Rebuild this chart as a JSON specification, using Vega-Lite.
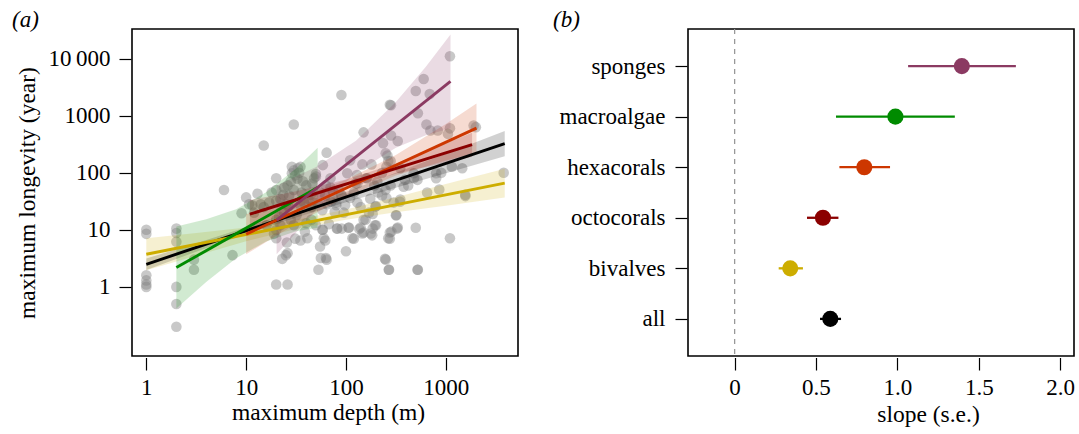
{
  "$schema": "https://vega.github.io/schema/vega-lite/v6.json",
  "padding": {"left": 11, "top": 7, "right": 2, "bottom": 2},
  "background": "white",
  "bounds": "flush",
  "spacing": 170,
  "config": {
    "font": "Liberation Serif",
    "view": {"stroke": "black", "strokeWidth": 1.6},
    "axis": {
      "domain": false, "grid": false, "ticks": true,
      "tickColor": "black", "tickWidth": 1.2,
      "labelColor": "black", "titleColor": "black",
      "labelFont": "Liberation Serif", "titleFont": "Liberation Serif",
      "labelFontSize": 23, "titleFontSize": 23.5, "titleFontWeight": "normal"
    }
  },
  "datasets": {
    "pts": [
      {"depth":1,"longevity":10},{"depth":1,"longevity":8.5},{"depth":1,"longevity":1.6},{"depth":1,"longevity":1.3},{"depth":1,"longevity":1.1},{"depth":1,"longevity":1.0},
      {"depth":2,"longevity":10.5},{"depth":2,"longevity":8.8},{"depth":2,"longevity":6.2},{"depth":2,"longevity":1.0},{"depth":2,"longevity":0.5},{"depth":2,"longevity":0.2},
      {"depth":3,"longevity":3},{"depth":3,"longevity":2},{"depth":6,"longevity":50},{"depth":7.3,"longevity":3.6},{"depth":9,"longevity":19.5},{"depth":10,"longevity":37},
      {"depth":13,"longevity":43},{"depth":10.7,"longevity":28},{"depth":15,"longevity":300},{"depth":20,"longevity":80},{"depth":30,"longevity":700},{"depth":15,"longevity":25},
      {"depth":20,"longevity":50},{"depth":20,"longevity":32},{"depth":23.6,"longevity":41},{"depth":26,"longevity":60},{"depth":28.7,"longevity":98},{"depth":28.7,"longevity":127},
      {"depth":35,"longevity":127},{"depth":32.6,"longevity":79},{"depth":37,"longevity":71},{"depth":44.5,"longevity":41},{"depth":46,"longevity":65},{"depth":58.6,"longevity":136},
      {"depth":64,"longevity":225},{"depth":50,"longevity":95},{"depth":35,"longevity":27},{"depth":38.8,"longevity":9.3},{"depth":41,"longevity":7.1},{"depth":35,"longevity":6.5},
      {"depth":31,"longevity":7},{"depth":25.6,"longevity":6},{"depth":26,"longevity":3.9},{"depth":23,"longevity":3.1},{"depth":25,"longevity":3.6},{"depth":20,"longevity":1.1},
      {"depth":26,"longevity":1.1},{"depth":20,"longevity":7.1},{"depth":20,"longevity":9.9},{"depth":21.4,"longevity":17},{"depth":26.5,"longevity":25.6},{"depth":58.6,"longevity":10},
      {"depth":60,"longevity":7.1},{"depth":55,"longevity":5.1},{"depth":56,"longevity":3.2},{"depth":63,"longevity":3.2},{"depth":53,"longevity":2.0},{"depth":67.6,"longevity":12.6},
      {"depth":81,"longevity":10.5},{"depth":77,"longevity":20.6},{"depth":100,"longevity":4.2},{"depth":90.6,"longevity":10.5},{"depth":106,"longevity":10.9},{"depth":116,"longevity":7.1},
      {"depth":136,"longevity":10.3},{"depth":146,"longevity":8.6},{"depth":157,"longevity":15},{"depth":177,"longevity":8.6},{"depth":185,"longevity":10.5},{"depth":200,"longevity":12},
      {"depth":197,"longevity":25.6},{"depth":185,"longevity":19},{"depth":246,"longevity":3.1},{"depth":268,"longevity":2.0},{"depth":265,"longevity":7.1},{"depth":285,"longevity":9.3},
      {"depth":325,"longevity":10.5},{"depth":316,"longevity":18},{"depth":347,"longevity":31},{"depth":378,"longevity":57},{"depth":500,"longevity":10.9},{"depth":520,"longevity":2.0},
      {"depth":1100,"longevity":7.1},{"depth":860,"longevity":51},{"depth":800,"longevity":98},{"depth":800,"longevity":80},{"depth":1460,"longevity":120},{"depth":1565,"longevity":41},
      {"depth":3800,"longevity":100},{"depth":477,"longevity":98},{"depth":520,"longevity":75},{"depth":390,"longevity":75},{"depth":249,"longevity":50},{"depth":254,"longevity":36},
      {"depth":192,"longevity":60},{"depth":160,"longevity":80},{"depth":146,"longevity":140},{"depth":129,"longevity":91},{"depth":110,"longevity":36},{"depth":98,"longevity":27},
      {"depth":90,"longevity":41},{"depth":71,"longevity":31},{"depth":74,"longevity":47},{"depth":63,"longevity":60},{"depth":150,"longevity":510},{"depth":90,"longevity":2300},
      {"depth":275,"longevity":1550},{"depth":282,"longevity":1520},{"depth":235,"longevity":330},{"depth":283,"longevity":450},{"depth":330,"longevity":360},{"depth":250,"longevity":220},
      {"depth":254,"longevity":127},{"depth":265,"longevity":160},{"depth":110,"longevity":165},{"depth":500,"longevity":2700},{"depth":600,"longevity":4400},{"depth":690,"longevity":2400},
      {"depth":525,"longevity":1100},{"depth":640,"longevity":700},{"depth":700,"longevity":550},{"depth":830,"longevity":550},{"depth":1050,"longevity":480},{"depth":1100,"longevity":600},
      {"depth":1100,"longevity":11000},{"depth":1900,"longevity":670},{"depth":2000,"longevity":630},{"depth":1150,"longevity":127},
      {"depth":17,"longevity":30},{"depth":18,"longevity":45},{"depth":22,"longevity":35},{"depth":24,"longevity":55},{"depth":25,"longevity":28},{"depth":27,"longevity":40},
      {"depth":28,"longevity":70},{"depth":30,"longevity":50},{"depth":30,"longevity":110},{"depth":31,"longevity":90},{"depth":33,"longevity":120},{"depth":34,"longevity":100},
      {"depth":36,"longevity":45},{"depth":38,"longevity":30},{"depth":40,"longevity":60},{"depth":42,"longevity":35},{"depth":45,"longevity":25},{"depth":48,"longevity":80},
      {"depth":52,"longevity":30},{"depth":55,"longevity":45},{"depth":58,"longevity":22},{"depth":62,"longevity":40},{"depth":65,"longevity":28},{"depth":70,"longevity":55},
      {"depth":75,"longevity":35},{"depth":80,"longevity":30},{"depth":85,"longevity":50},{"depth":95,"longevity":20},{"depth":120,"longevity":45},{"depth":125,"longevity":65},
      {"depth":140,"longevity":25},{"depth":175,"longevity":35},{"depth":210,"longevity":45},{"depth":230,"longevity":100},{"depth":280,"longevity":60},{"depth":300,"longevity":30},
      {"depth":420,"longevity":60},{"depth":650,"longevity":45},{"depth":900,"longevity":100},{"depth":350,"longevity":120},{"depth":180,"longevity":140},{"depth":20,"longevity":15},
      {"depth":22,"longevity":12},{"depth":24,"longevity":20},{"depth":28,"longevity":15},{"depth":32,"longevity":18},{"depth":40,"longevity":13},{"depth":45,"longevity":15},
      {"depth":50,"longevity":12},{"depth":30,"longevity":12},{"depth":16,"longevity":12},{"depth":19,"longevity":8.5},{"depth":12,"longevity":20},{"depth":14,"longevity":28},
      {"depth":11.5,"longevity":27},{"depth":260,"longevity":200},{"depth":280,"longevity":160},{"depth":480,"longevity":80},{"depth":206,"longevity":70},{"depth":163,"longevity":80},
      {"depth":103,"longevity":98},{"depth":70,"longevity":80},{"depth":130,"longevity":65},{"depth":50,"longevity":86},{"depth":1570,"longevity":39},{"depth":320,"longevity":18},
      {"depth":330,"longevity":11},{"depth":275,"longevity":9},{"depth":275,"longevity":7},{"depth":350,"longevity":34},{"depth":250,"longevity":3},{"depth":270,"longevity":2},
      {"depth":525,"longevity":2},{"depth":64,"longevity":3},{"depth":183,"longevity":8},{"depth":150,"longevity":9},{"depth":120,"longevity":7},{"depth":82,"longevity":10.5},
      {"depth":107,"longevity":11},{"depth":140,"longevity":11},{"depth":195,"longevity":12},{"depth":200,"longevity":26},{"depth":170,"longevity":20},{"depth":58,"longevity":10},
      {"depth":62,"longevity":6.5},{"depth":130,"longevity":30},{"depth":230,"longevity":40},{"depth":90,"longevity":40},{"depth":80,"longevity":27},{"depth":150,"longevity":15}
    ],
    "bands": [
      {"group":"all","depth":1,"lo":1.98,"hi":3.13},{"group":"all","depth":3.16,"lo":4.13,"hi":5.83},{"group":"all","depth":10,"lo":8.41,"hi":11.09},{"group":"all","depth":31.6,"lo":16.39,"hi":22.11},
      {"group":"all","depth":100,"lo":30.5,"hi":46.1},{"group":"all","depth":316,"lo":54.8,"hi":99.7},{"group":"all","depth":1000,"lo":98.4,"hi":215.3},{"group":"all","depth":3890,"lo":195.4,"hi":538.3},
      {"group":"bivalves","depth":1,"lo":1.96,"hi":7.11},{"group":"bivalves","depth":3.16,"lo":3.51,"hi":8.82},{"group":"bivalves","depth":10,"lo":6.30,"hi":10.94},{"group":"bivalves","depth":31.6,"lo":10.3,"hi":14.9},
      {"group":"bivalves","depth":100,"lo":15.0,"hi":22.7},{"group":"bivalves","depth":316,"lo":20.4,"hi":37.1},{"group":"bivalves","depth":1000,"lo":26.5,"hi":63.5},{"group":"bivalves","depth":3890,"lo":37.0,"hi":117},
      {"group":"macroalgae","depth":2,"lo":0.416,"hi":11.46},{"group":"macroalgae","depth":3.98,"lo":1.214,"hi":15.29},{"group":"macroalgae","depth":7.94,"lo":3.17,"hi":22.95},
      {"group":"macroalgae","depth":15.85,"lo":6.27,"hi":45.4},{"group":"macroalgae","depth":31.6,"lo":9.41,"hi":118.5},{"group":"macroalgae","depth":52,"lo":10.9,"hi":273.5},
      {"group":"hexacorals","depth":10,"lo":3.74,"hi":18.75},{"group":"hexacorals","depth":31.6,"lo":12.76,"hi":35.16},{"group":"hexacorals","depth":100,"lo":37.9,"hi":75.7},
      {"group":"hexacorals","depth":316,"lo":89.5,"hi":205},{"group":"hexacorals","depth":1000,"lo":164,"hi":716},{"group":"hexacorals","depth":2028,"lo":225,"hi":1629},
      {"group":"octocorals","depth":10.9,"lo":10.57,"hi":33.4},{"group":"octocorals","depth":31.6,"lo":23.8,"hi":47.5},{"group":"octocorals","depth":100,"lo":52.6,"hi":76.0},
      {"group":"octocorals","depth":316,"lo":96.4,"hi":145.9},{"group":"octocorals","depth":1000,"lo":150.7,"hi":329.6},{"group":"octocorals","depth":1832,"lo":191.4,"hi":503.5},
      {"group":"sponges","depth":20.2,"lo":3.72,"hi":58.9},{"group":"sponges","depth":50.1,"lo":21.9,"hi":126.3},{"group":"sponges","depth":125.9,"lo":99.95,"hi":362.9},
      {"group":"sponges","depth":316,"lo":274.3,"hi":1730},{"group":"sponges","depth":631,"lo":454,"hi":7194},{"group":"sponges","depth":1114,"lo":605,"hi":26420}
    ],
    "lines": [
      {"group":"all","depth":1,"fit":2.49},{"group":"all","depth":3890,"fit":323},
      {"group":"bivalves","depth":1,"fit":3.73},{"group":"bivalves","depth":3890,"fit":65.7},
      {"group":"macroalgae","depth":2,"fit":2.18},{"group":"macroalgae","depth":52,"fit":55},
      {"group":"hexacorals","depth":10,"fit":8.4},{"group":"hexacorals","depth":2028,"fit":606},
      {"group":"octocorals","depth":10.9,"fit":18.8},{"group":"octocorals","depth":1832,"fit":310},
      {"group":"sponges","depth":20.2,"fit":14.8},{"group":"sponges","depth":1114,"fit":4000}
    ],
    "slopes": [
      {"group":"sponges","slope":1.396,"lo":1.066,"hi":1.728},
      {"group":"macroalgae","slope":0.988,"lo":0.623,"hi":1.353},
      {"group":"hexacorals","slope":0.797,"lo":0.644,"hi":0.955},
      {"group":"octocorals","slope":0.543,"lo":0.445,"hi":0.638},
      {"group":"bivalves","slope":0.342,"lo":0.271,"hi":0.420},
      {"group":"all","slope":0.588,"lo":0.525,"hi":0.654}
    ]
  },
  "hconcat": [
    {
      "width": 386,
      "height": 327,
      "title": {"text": "(a)", "anchor": "start", "frame": "group", "dx": -120, "offset": -21, "baseline": "alphabetic", "fontStyle": "italic", "fontSize": 23, "fontWeight": "normal", "font": "Liberation Serif", "color": "black"},
      "layer": [
        {
          "data": {"name": "pts"},
          "mark": {"type": "circle", "size": 112, "color": "#808080", "opacity": 0.43},
          "encoding": {
            "x": {"field": "depth", "type": "quantitative", "title": "maximum depth (m)",
              "scale": {"type": "log", "domain": [0.719, 5284], "nice": false},
              "axis": {"values": [1, 10, 100, 1000], "format": "d", "offset": 1.5, "tickSize": 12.5, "labelPadding": 24, "labelBaseline": "alphabetic", "titleX": 196, "titleY": 62, "titleBaseline": "alphabetic", "titleAlign": "center"}},
            "y": {"field": "longevity", "type": "quantitative", "title": "maximum longevity (year)",
              "scale": {"type": "log", "domain": [0.0615, 33040], "nice": false},
              "axis": {"values": [1, 10, 100, 1000, 10000], "labelExpr": "datum.value >= 10000 ? '10\u2009000' : format(datum.value, 'd')", "offset": 1, "tickSize": 12, "labelPadding": 9, "titleX": -96.5, "titleY": 163.5, "titleBaseline": "alphabetic", "titleAlign": "center", "titleAngle": 270}}
          }
        },
        {
          "data": {"name": "bands"},
          "mark": {"type": "area", "opacity": 0.18},
          "encoding": {
            "x": {"field": "depth", "type": "quantitative", "title": "maximum depth (m)"},
            "y": {"field": "lo", "type": "quantitative", "title": "maximum longevity (year)"},
            "y2": {"field": "hi"},
            "color": {"field": "group", "type": "nominal", "legend": null,
              "scale": {"domain": ["all", "bivalves", "octocorals", "hexacorals", "macroalgae", "sponges"], "range": ["#000000", "#CDAD00", "#8B0000", "#CD3700", "#008B00", "#8B3A62"]}}
          }
        },
        {
          "data": {"name": "lines"},
          "mark": {"type": "line", "strokeWidth": 2.9},
          "encoding": {
            "x": {"field": "depth", "type": "quantitative", "title": "maximum depth (m)"},
            "y": {"field": "fit", "type": "quantitative", "title": "maximum longevity (year)"},
            "color": {"field": "group", "type": "nominal", "legend": null}
          }
        }
      ]
    },
    {
      "width": 386,
      "height": 327,
      "title": {"text": "(b)", "anchor": "start", "frame": "group", "dx": -135, "offset": -21, "baseline": "alphabetic", "fontStyle": "italic", "fontSize": 23, "fontWeight": "normal", "font": "Liberation Serif", "color": "black"},
      "data": {"name": "slopes"},
      "layer": [
        {
          "mark": {"type": "rule", "color": "#999999", "strokeDash": [5, 5], "strokeWidth": 1},
          "encoding": {
            "x": {"datum": 0, "type": "quantitative", "title": "slope (s.e.)",
              "scale": {"domain": [-0.286, 2.085], "nice": false, "zero": false},
              "axis": {"values": [0, 0.5, 1, 1.5, 2], "labelExpr": "datum.value == 0 ? '0' : format(datum.value, '.1f')", "offset": 1.5, "tickSize": 12.5, "labelPadding": 24, "labelBaseline": "alphabetic", "titleX": 240, "titleY": 64, "titleBaseline": "alphabetic", "titleAlign": "center"}}
          }
        },
        {
          "mark": {"type": "rule", "strokeWidth": 2.3},
          "encoding": {
            "x": {"field": "lo", "type": "quantitative", "title": "slope (s.e.)"},
            "x2": {"field": "hi"},
            "y": {"field": "group", "type": "nominal", "sort": null, "title": null,
              "scale": {"type": "point", "domain": ["sponges", "macroalgae", "hexacorals", "octocorals", "bivalves", "all"], "padding": 0.734},
              "axis": {"offset": 1, "tickSize": 12, "labelPadding": 10, "labelBaseline": "middle"}},
            "color": {"field": "group", "type": "nominal", "legend": null}
          }
        },
        {
          "mark": {"type": "circle", "size": 260, "opacity": 1},
          "encoding": {
            "x": {"field": "slope", "type": "quantitative", "title": "slope (s.e.)"},
            "y": {"field": "group", "type": "nominal", "sort": null, "title": null},
            "color": {"field": "group", "type": "nominal", "legend": null}
          }
        }
      ]
    }
  ]
}
